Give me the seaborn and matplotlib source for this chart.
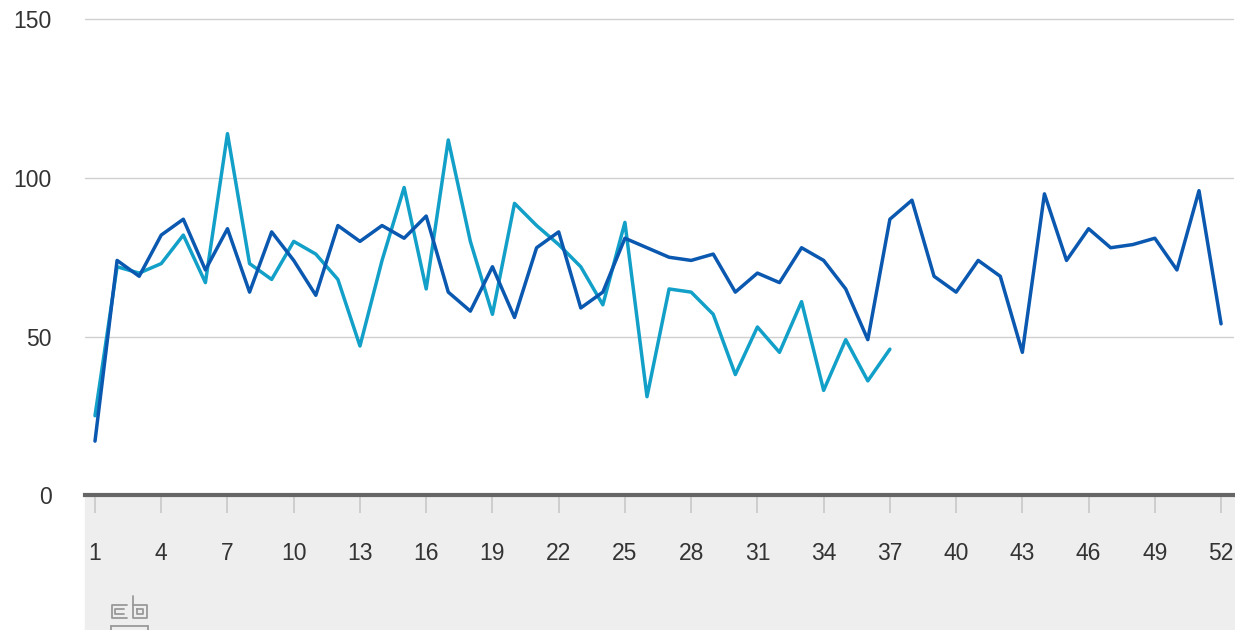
import pandas as pd
import seaborn as sns
import matplotlib.pyplot as plt
from matplotlib.patches import Rectangle
from matplotlib.lines import Line2D

# --- data (week number vs. value) ---
weeks_dark = list(range(1, 53))
values_dark = [17, 74, 69, 82, 87, 71, 84, 64, 83, 74, 63, 85, 80, 85, 81, 88,
               64, 58, 72, 56, 78, 83, 59, 64, 81, 78, 75, 74, 76, 64, 70, 67,
               78, 74, 65, 49, 87, 93, 69, 64, 74, 69, 45, 95, 74, 84, 78, 79,
               81, 71, 96, 54]

weeks_light = list(range(1, 38))
values_light = [25, 72, 70, 73, 82, 67, 114, 73, 68, 80, 76, 68, 47, 74, 97, 65,
                112, 80, 57, 92, 85, 79, 72, 60, 86, 31, 65, 64, 57, 38, 53, 45,
                61, 33, 49, 36, 46]

x_ticks = list(range(1, 53, 3))
y_ticks = [0, 50, 100, 150]

DARK = '#0a58b0'
LIGHT = '#12a0c8'

df_dark = pd.DataFrame({'week': weeks_dark, 'value': values_dark})
df_light = pd.DataFrame({'week': weeks_light, 'value': values_light})

sns.set_theme(style="white")
plt.rcParams['font.family'] = ['Liberation Sans', 'DejaVu Sans']

W, H = 1235, 630
fig = plt.figure(figsize=(W / 100, H / 100), dpi=100)

# grey band under the x axis (behind the axes)
fig.patches.append(Rectangle((85 / W, 0), 1150 / W, 135 / H,
                             transform=fig.transFigure, color='#eeeeee', zorder=-1))

ax = fig.add_axes([85 / W, 135 / H, 1148 / W, (495 - 19.5) / H])
ax.set_facecolor('none')

sns.lineplot(data=df_light, x='week', y='value', color=LIGHT, linewidth=2.5, ax=ax)
sns.lineplot(data=df_dark, x='week', y='value', color=DARK, linewidth=2.5, ax=ax)

ax.set_xlim(0.547, 52.54)
ax.set_ylim(0, 150)
ax.set_xticks(x_ticks)
ax.set_yticks(y_ticks)
ax.set_xlabel('')
ax.set_ylabel('')

for yv in y_ticks[1:]:
    ax.axhline(yv, color='#d0d0d0', linewidth=1, zorder=0, clip_on=False)

for side in ['top', 'right', 'left']:
    ax.spines[side].set_visible(False)
ax.spines['bottom'].set_color('#666666')
ax.spines['bottom'].set_linewidth(3)
ax.spines['bottom'].set_zorder(5)

ax.tick_params(axis='x', direction='out', length=13, width=1.2, color='#c8c8c8',
               pad=21, labelsize=16.5, labelcolor='#333333', bottom=True, labelbottom=True)
ax.tick_params(axis='y', length=0, pad=24, labelsize=16.5, labelcolor='#333333')

# small CBS mark in the grey band
logo = '#999999'
def fig_line(xs, ys):
    fig.add_artist(Line2D([x / W for x in xs], [1 - y / H for y in ys],
                          color=logo, linewidth=1.3, transform=fig.transFigure))

fig_line([127, 112, 112, 127], [605, 605, 618, 618])
fig_line([124, 115, 115, 124], [609, 609, 614, 614])
fig_line([133, 133, 147, 147, 133], [596, 618, 618, 605, 605])
fig_line([137, 137, 143, 143, 137], [609, 614, 614, 609, 609])
fig_line([111, 148], [626, 626])
fig_line([111, 111], [626, 630])
fig_line([148, 148], [626, 630])

fig.savefig('out.png', dpi=100)
